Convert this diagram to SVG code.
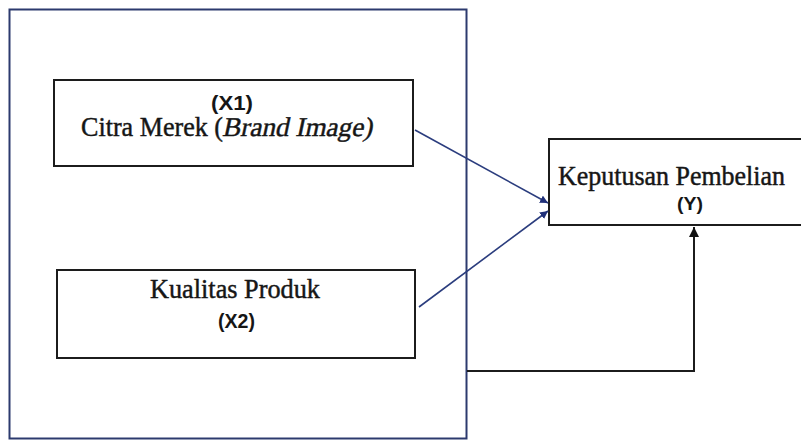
<svg xmlns="http://www.w3.org/2000/svg" width="801" height="441" viewBox="0 0 801 441">
  <defs>
    <style>
      .frame { fill: none; stroke: #2c3a6e; stroke-width: 2; }
      .box { fill: #ffffff; stroke: #1c1c1c; stroke-width: 2; }
      .serif { font-family: "Liberation Serif", serif; font-size: 27px; fill: #161616; stroke: #161616; stroke-width: 0.45; }
      .tag { font-family: "Liberation Sans", Arial, sans-serif; font-weight: bold; fill: #161616; }
      .link { fill: none; stroke: #2b3d7e; stroke-width: 1.6; }
      .elbow { fill: none; stroke: #1c1c1c; stroke-width: 2; }
    </style>
    <marker id="headBlue" viewBox="0 0 10 10" refX="10" refY="5" markerWidth="8" markerHeight="8" markerUnits="userSpaceOnUse" orient="auto">
      <path d="M0,0 L10,5 L0,10 z" fill="#1f2f78"/>
    </marker>
    <marker id="headBlack" viewBox="0 0 10 10" refX="10" refY="5" markerWidth="10" markerHeight="10" markerUnits="userSpaceOnUse" orient="auto">
      <path d="M0,0 L10,5 L0,10 z" fill="#111111"/>
    </marker>
  </defs>
  <rect x="0" y="0" width="801" height="441" fill="#ffffff"/>

  <!-- surrounding frame of the independent variables -->
  <g id="frame">
    <rect class="frame" x="9.5" y="9.5" width="457" height="429"/>
  </g>

  <g id="x1">
    <rect class="box" x="54" y="80" width="359" height="86"/>
    <text class="tag" x="232" y="110" font-size="20" text-anchor="middle" textLength="42" lengthAdjust="spacingAndGlyphs">(X1)</text>
    <text class="serif" x="81" y="136" textLength="142" lengthAdjust="spacingAndGlyphs">Citra Merek (</text>
    <!-- slanted serif for the English term -->
    <text class="serif" transform="translate(222,136) skewX(-12)" x="0" y="0" textLength="150" lengthAdjust="spacingAndGlyphs">Brand Image)</text>
  </g>

  <g id="x2">
    <rect class="box" x="57" y="270" width="358" height="88"/>
    <text class="serif" x="150" y="298" textLength="170" lengthAdjust="spacingAndGlyphs">Kualitas Produk</text>
    <text class="tag" x="236.5" y="328" font-size="21" text-anchor="middle" textLength="37" lengthAdjust="spacingAndGlyphs">(X2)</text>
  </g>

  <g id="y">
    <rect class="box" x="549" y="139" width="270" height="86"/>
    <text class="serif" x="558" y="185" textLength="227" lengthAdjust="spacingAndGlyphs">Keputusan Pembelian</text>
    <text class="tag" x="690" y="210" font-size="19" text-anchor="middle" textLength="26" lengthAdjust="spacingAndGlyphs">(Y)</text>
  </g>

  <g id="connectors">
    <line class="link" x1="415" y1="130" x2="548" y2="203" marker-end="url(#headBlue)"/>
    <line class="link" x1="419" y1="307" x2="548" y2="211" marker-end="url(#headBlue)"/>
    <polyline class="elbow" points="467,371 694,371 694,227" marker-end="url(#headBlack)"/>
  </g>
</svg>
